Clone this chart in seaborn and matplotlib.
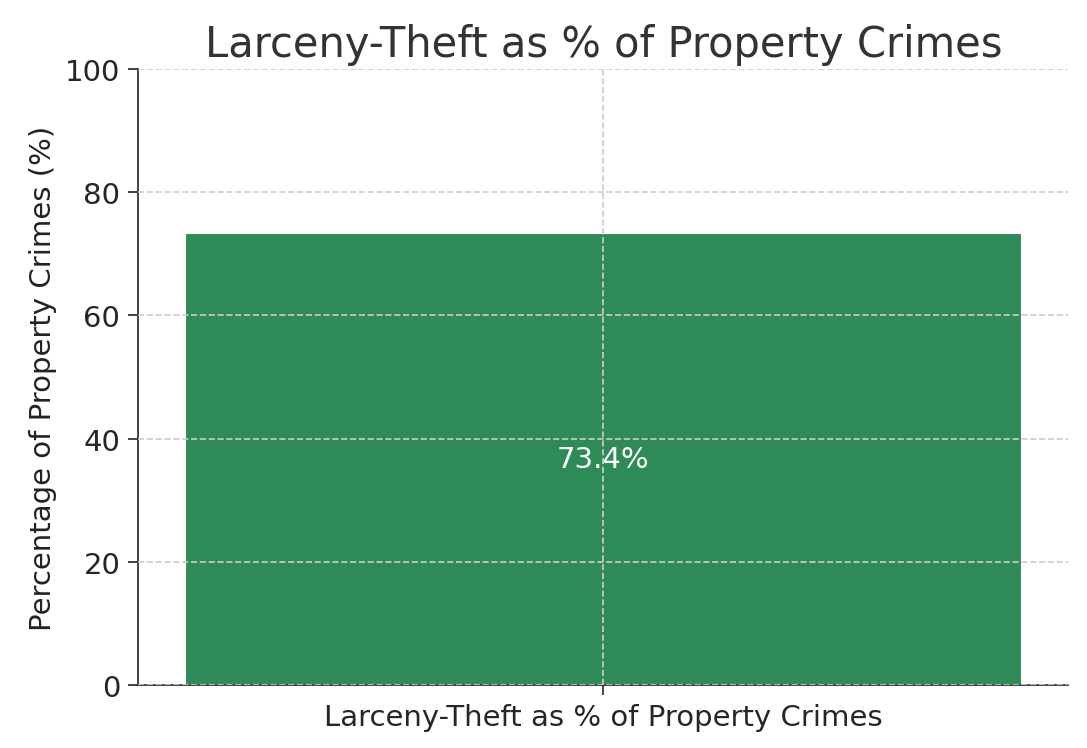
import matplotlib
matplotlib.use("Agg")
import matplotlib.pyplot as plt
import seaborn as sns
import pandas as pd

categories = ["Larceny-Theft as % of Property Crimes"]
values = [73.4]

sns.set_style("white")
plt.rcParams['font.family'] = ['DejaVu Sans']
df = pd.DataFrame({"cat": categories, "val": values})

fig = plt.figure(figsize=(7.25, 4.993), dpi=150)
ax = fig.add_axes([138/1087, 1-686/749, (1068-138)/1087, (686-70)/749])
sns.barplot(data=df, x="cat", y="val", color="#2E8B57", saturation=1, width=0.9, ax=ax)
ax.set_ylim(0, 100)
ax.set_xlim(-0.5, 0.5)
ax.grid(True, linestyle="--", color="#cccccc", linewidth=0.8)
ax.set_axisbelow(False)
for s in ["top", "right"]:
    ax.spines[s].set_visible(False)
for s in ["left", "bottom"]:
    ax.spines[s].set_color("#222222")
ax.tick_params(axis="both", labelsize=14, length=5, color="#222222", left=True, bottom=True)
ax.set_xlabel("")
ax.set_ylabel("Percentage of Property Crimes (%)", fontsize=14, color="#222222")
ax.set_title("Larceny-Theft as % of Property Crimes", fontsize=20, color="#333333")
for i, v in enumerate(values):
    ax.text(i, v / 2, f"{v}%", ha="center", va="center", color="white", fontsize=14)
fig.savefig("out.png", dpi=150)
